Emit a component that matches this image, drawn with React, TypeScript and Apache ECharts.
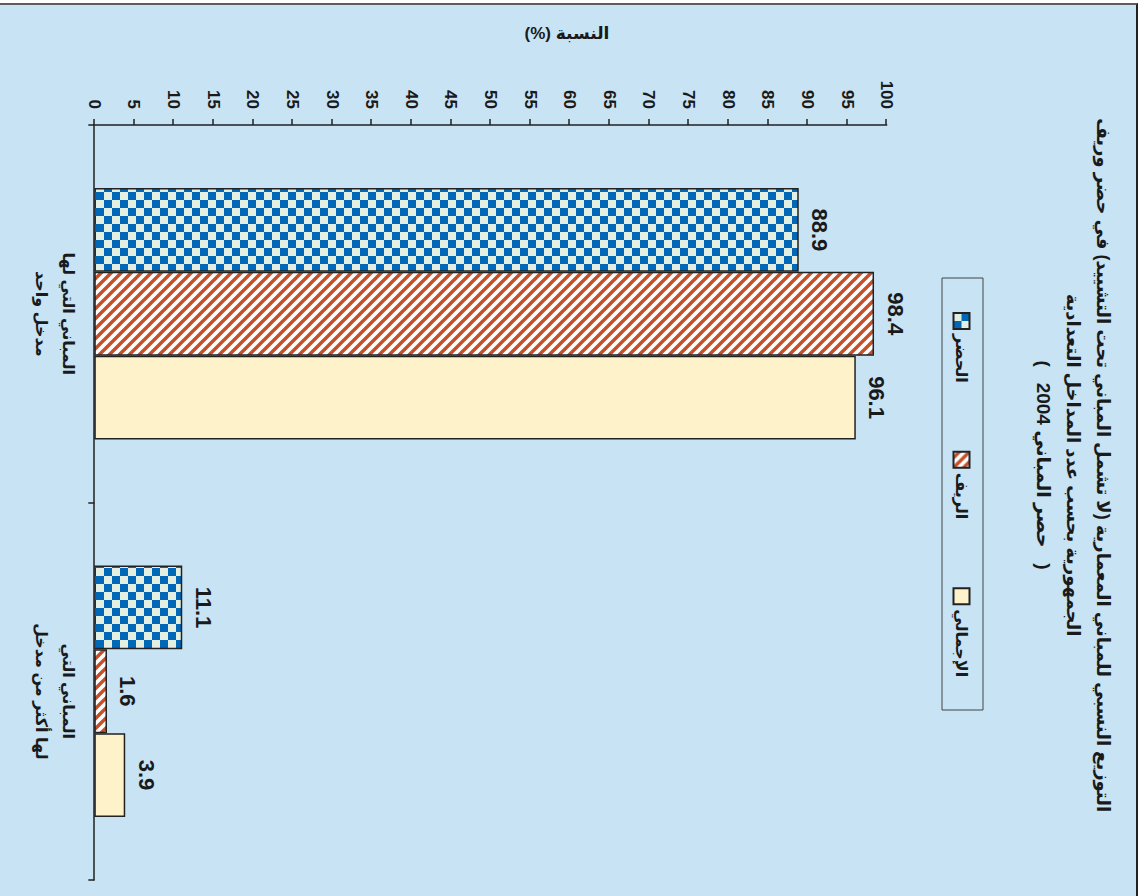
import React, { useEffect, useRef } from "react";
import * as echarts from "echarts";

// ---- data ----
const categories = ["المباني التي لها\nمدخل واحد", "المباني التي\nلها أكثر من مدخل"];
const seriesNames = ["الحضر", "الريف", "الإجمالي"];
const urbanValues = [88.9, 11.1];
const ruralValues = [98.4, 1.6];
const totalValues = [96.1, 3.9];
const titleLines = [
  "التوزيع النسبي للمباني المعمارية (لا تشمل المباني تحت التشييد) في حضر وريف",
  "الجمهورية بحسب عدد المداخل التعدادية",
  "(   حصر المباني 2004   )",
];
const axisName = "النسبة (%)\u200F";
const valueMin = 0;
const valueMax = 100;
const valueStep = 5;

const FONT = 'Arial, "Liberation Sans", "DejaVu Sans", sans-serif';

function checkerPattern() {
  const c = document.createElement("canvas");
  c.width = 16;
  c.height = 16;
  const ctx = c.getContext("2d")!;
  ctx.fillStyle = "#e2efe1";
  ctx.fillRect(0, 0, 16, 16);
  ctx.fillStyle = "#0068b6";
  ctx.fillRect(0, 0, 8, 8);
  ctx.fillRect(8, 8, 8, 8);
  return { image: c.toDataURL(), repeat: "repeat", imageWidth: 16, imageHeight: 16 };
}

function stripePattern() {
  const c = document.createElement("canvas");
  c.width = 10;
  c.height = 10;
  const ctx = c.getContext("2d")!;
  ctx.fillStyle = "#ffffff";
  ctx.fillRect(0, 0, 10, 10);
  ctx.strokeStyle = "#c4502a";
  ctx.lineWidth = 3.4;
  ctx.beginPath();
  ctx.moveTo(-5, -5);
  ctx.lineTo(15, 15);
  ctx.moveTo(-5, 5);
  ctx.lineTo(5, 15);
  ctx.moveTo(5, -5);
  ctx.lineTo(15, 5);
  ctx.stroke();
  return { image: c.toDataURL(), repeat: "repeat", imageWidth: 10, imageHeight: 10 };
}

export default function App() {
  const ref = useRef<HTMLDivElement>(null);

  useEffect(() => {
    if (!ref.current) return;
    const chart = echarts.init(ref.current, undefined, { renderer: "svg" });
    const border = { borderColor: "#222", borderWidth: 1.5 };
    const label = {
      show: true,
      position: "top",
      distance: 10,
      fontSize: 22,
      fontWeight: "bold",
      color: "#1a1a1a",
      fontFamily: FONT,
    };
    const option: any = {
      animation: false,
      backgroundColor: "transparent",
      textStyle: { fontFamily: FONT },
      grid: { left: 125, right: 16, top: 257.3, bottom: 94.3, containLabel: false },
      legend: {
        data: seriesNames,
        left: 312,
        top: 173.5,
        padding: 0,
        itemGap: 68,
        itemWidth: 16,
        itemHeight: 16,
        icon: "rect",
        textStyle: { fontSize: 16, fontWeight: "bold", color: "#1a1a1a", fontFamily: FONT },
      },
      xAxis: {
        type: "category",
        data: categories,
        axisLine: { lineStyle: { color: "#222", width: 1.5 } },
        axisTick: { show: true, length: 6, lineStyle: { color: "#222", width: 1.5 } },
        axisLabel: {
          interval: 0,
          margin: 12,
          fontSize: 16,
          fontWeight: "bold",
          lineHeight: 27,
          color: "#1a1a1a",
          fontFamily: FONT,
        },
      },
      yAxis: {
        type: "value",
        min: valueMin,
        max: valueMax,
        interval: valueStep,
        axisLine: { show: true, lineStyle: { color: "#222", width: 1.5 } },
        axisTick: { show: true, length: 6, lineStyle: { color: "#222", width: 1.5 } },
        splitLine: { show: false },
        axisLabel: { margin: 16, fontSize: 17, fontWeight: "bold", color: "#1a1a1a", fontFamily: FONT },
      },
      graphic: [
        ...titleLines.map((t, i) => ({
          type: "text",
          x: 465,
          y: 41 + i * 30,
          style: {
            text: t,
            fontSize: i === 2 ? 19 : 18,
            fontWeight: "bold",
            fill: "#1a1a1a",
            fontFamily: FONT,
            textAlign: "center",
            textVerticalAlign: "middle",
          },
        })),
        {
          type: "text",
          x: 33,
          y: 577,
          rotation: Math.PI / 2,
          style: {
            text: axisName,
            fontSize: 17,
            fontWeight: "bold",
            fill: "#1a1a1a",
            fontFamily: FONT,
            textAlign: "center",
            textVerticalAlign: "middle",
          },
        },
        {
          type: "rect",
          shape: { x: 278, y: 161, width: 432, height: 41 },
          style: { fill: "none", stroke: "#444", lineWidth: 1 },
        },
      ],
      series: [
        {
          name: seriesNames[0],
          type: "bar",
          data: urbanValues,
          barGap: "0%",
          barCategoryGap: "33.4%",
          itemStyle: { color: checkerPattern(), ...border },
          label,
        },
        {
          name: seriesNames[1],
          type: "bar",
          data: ruralValues,
          barGap: "0%",
          barCategoryGap: "33.4%",
          itemStyle: { color: stripePattern(), ...border },
          label,
        },
        {
          name: seriesNames[2],
          type: "bar",
          data: totalValues,
          barGap: "0%",
          barCategoryGap: "33.4%",
          itemStyle: { color: "#fdf2c9", ...border },
          label,
        },
      ],
    };
    chart.setOption(option);
    return () => chart.dispose();
  }, []);

  return (
    <div
      style={{
        position: "absolute",
        left: 0,
        top: 0,
        width: 1144,
        height: 896,
        overflow: "hidden",
        background: "#ffffff",
      }}
    >
      <div
        style={{
          position: "absolute",
          left: 0,
          top: 3,
          width: 1136,
          height: 893,
          background: "#c7e3f4",
          borderTop: "2px solid #5c5c5c",
          borderRight: "2px solid #222",
        }}
      />
      <div
        ref={ref}
        style={{
          position: "absolute",
          left: 0,
          top: 0,
          width: 896,
          height: 1144,
          transformOrigin: "0 0",
          transform: "translateX(1144px) rotate(90deg)",
        }}
      />
    </div>
  );
}
